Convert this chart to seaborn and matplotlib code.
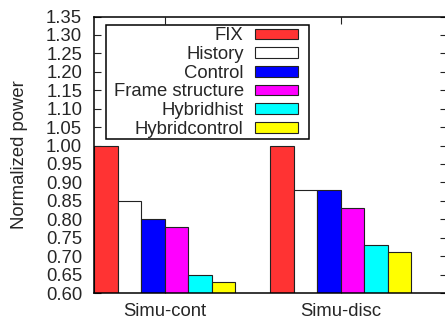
import matplotlib
matplotlib.use("Agg")
import matplotlib.pyplot as plt
import matplotlib.patches as mpatches
import seaborn as sns
import pandas as pd
import numpy as np

scenarios = ["Simu-cont", "Simu-disc"]
methods = ["FIX", "History", "Control", "Frame structure", "Hybridhist", "Hybridcontrol"]
fix_vals = [1.00, 1.00]
history_vals = [0.85, 0.88]
control_vals = [0.80, 0.88]
frame_vals = [0.78, 0.83]
hybridhist_vals = [0.65, 0.73]
hybridcontrol_vals = [0.63, 0.71]
colors = ["#ff3333", "#ffffff", "#0000ff", "#ff00ff", "#00ffff", "#ffff00"]
yticks = [0.60, 0.65, 0.70, 0.75, 0.80, 0.85, 0.90, 0.95, 1.00, 1.05, 1.10, 1.15, 1.20, 1.25, 1.30, 1.35]

series = [fix_vals, history_vals, control_vals, frame_vals, hybridhist_vals, hybridcontrol_vals]
rows = []
for m, vals in zip(methods, series):
    for s, v in zip(scenarios, vals):
        rows.append({"scenario": s, "method": m, "power": v})
df = pd.DataFrame(rows)

sns.set_theme(style="white")
plt.rcParams["font.family"] = ["Liberation Sans", "DejaVu Sans"]
FS = 13.3
plt.rcParams["font.size"] = FS

W, H = 445, 320
fig = plt.figure(figsize=(W / 100, H / 100), dpi=100)
ax = fig.add_axes([94 / W, (H - 293) / H, (446.5 - 94) / W, (293 - 16.5) / H])

sns.barplot(data=df, x="scenario", y="power", hue="method", hue_order=methods,
            order=scenarios, palette=colors, saturation=1, width=0.8, gap=0,
            errorbar=None, edgecolor="#222222", linewidth=0.8, ax=ax)

ax.set_ylim(0.60, 1.35)
ax.set_xlim(-0.4, 1.6)
ax.set_yticks(yticks)
ax.set_yticklabels([f"{t:.2f}" for t in yticks])
ax.set_xlabel("")
ax.set_ylabel("Normalized power", fontsize=FS, labelpad=13)
ax.tick_params(axis="both", direction="in", length=5, width=0.8, color="#222222",
               labelsize=FS, top=True, right=True, bottom=True, left=True)
ax.tick_params(axis="y", pad=8.5)
ax.tick_params(axis="x", pad=7)
for sp in ax.spines.values():
    sp.set_color("black")
    sp.set_linewidth(1.1)
    sp.set_visible(True)

handles, labels = ax.get_legend_handles_labels()
if ax.get_legend() is not None:
    ax.get_legend().remove()

ax_h = 293 - 16.5
leg = ax.legend(handles, labels, loc="upper left",
                bbox_to_anchor=((113.5 - 94) / 352.5, (293 - 27.5) / ax_h),
                bbox_transform=ax.transAxes, borderaxespad=0, borderpad=0,
                markerfirst=False, fontsize=FS, handlelength=2.3, handleheight=0.5,
                handletextpad=0.62, labelspacing=0.09, frameon=False)
for h in leg.legend_handles:
    h.set_edgecolor("#222222")
    h.set_linewidth(0.8)
leg.set_zorder(10)

fig.canvas.draw()
ext = leg.get_window_extent()
x0, y0, x1, y1 = ext.x0 - 7.5, ext.y0 - 1.5, ext.x1 + 11.5, ext.y1 + 2.8
frame = mpatches.Rectangle((x0 / W, y0 / H), (x1 - x0) / W, (y1 - y0) / H,
                           transform=fig.transFigure, facecolor="white",
                           edgecolor="black", linewidth=1.1, zorder=9)
ax.add_patch(frame)
frame.set_clip_on(False)

fig.savefig("out.png", dpi=100)
